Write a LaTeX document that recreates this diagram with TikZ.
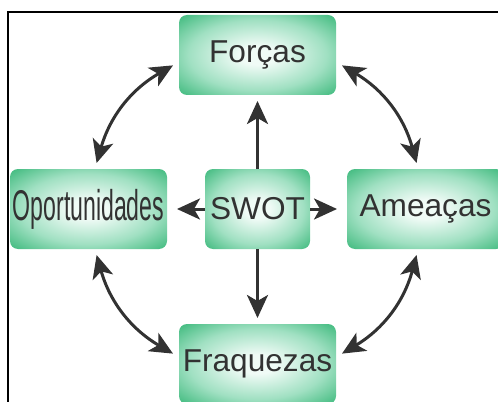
\documentclass[tikz,border=0pt]{standalone}
\usepackage{fontspec}
\setmainfont{Liberation Sans}
\usepackage{graphicx}
\usepackage{xcolor}
\usepackage{tikz}
\usetikzlibrary{arrows.meta}

\definecolor{glowin}{RGB}{240,251,246}
\definecolor{glowmid}{RGB}{160,224,194}
\definecolor{glowout}{RGB}{58,184,122}
\definecolor{glowedge}{RGB}{40,170,104}
\definecolor{inkgray}{RGB}{50,50,50}
\pgfdeclareradialshading{boxglow}{\pgfpoint{0bp}{0bp}}{color(0bp)=(glowin); color(6bp)=(glowin); color(22bp)=(glowmid); color(36bp)=(glowout); color(50bp)=(glowedge); color(80bp)=(glowedge)}

\tikzset{
  swotbox/.style={shading=boxglow, rounded corners=0.16cm, minimum width=3.14cm, minimum height=1.6cm, inner sep=0pt, outer sep=0.12cm, text=inkgray, font=\fontsize{18}{21}\selectfont},
  swottip/.tip={Stealth[length=0.46cm, width=0.42cm, inset=0.12cm]},
  oneway/.style={draw=inkgray, line width=0.06cm, -swottip},
  twoway/.style={draw=inkgray, line width=0.06cm, swottip-swottip}
}

\begin{document}
\begin{tikzpicture}

\useasboundingbox (0,0) rectangle (9.96,8.02);
\clip (0,0) rectangle (9.96,8.02);

%%%%%% frame %%%%%%
\draw[black, line width=0.04cm] (0.16,-0.2)--(0.16,7.78)--(10.2,7.78);

%%%%%%%%%% boxes %%%%%%%%
{
\node[swotbox] (forcas) at (5.15,6.92) {Forças};
\node[swotbox] (oport) at (1.77,3.84) {\scalebox{0.73}[1.36]{Oportunidades}};
\node[swotbox, minimum width=2.1cm, outer sep=0pt] (swot) at (5.15,3.84) {SWOT};
\node[swotbox] (ameacas) at (8.51,3.84) {Ameaças};
\node[swotbox] (fraquezas) at (5.15,0.74) {Fraquezas};
}

%%%%%%%%%%%%     arrows   %%%%%%%%%%%%
{
\draw[oneway] (swot.north)--(forcas.south);
\draw[oneway] (swot.south)--(fraquezas.north);
\draw[oneway, shorten >=0.08cm] (swot.west)--(oport.east);
\draw[oneway, shorten >=0.08cm] (swot.east)--(ameacas.west);

\draw[twoway] (forcas.187) to[bend right=22] (oport.80);
\draw[twoway] (oport.280) to[bend right=22] (fraquezas.173);
\draw[twoway] (fraquezas.7) to[bend right=22] (ameacas.259);
\draw[twoway] (ameacas.101) to[bend right=22] (forcas.353);
}

\end{tikzpicture}
\end{document}
